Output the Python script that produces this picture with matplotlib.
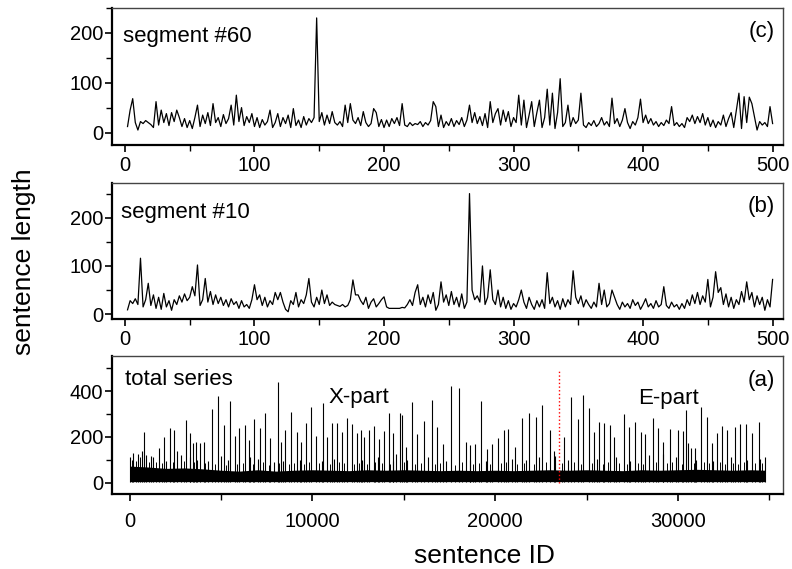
import matplotlib.pyplot as plt
import numpy as np
from matplotlib.ticker import MultipleLocator

plt.rcParams['font.family'] = ['Liberation Sans', 'DejaVu Sans']

# ---- segments of 500 sentences (read every 2nd sentence) ----
seg_x = np.arange(2, 501, 2)

seg60 = [12, 45, 68, 20, 5, 22, 18, 24, 20, 16,
         10, 62, 15, 45, 20, 38, 14, 40, 22, 45,
         30, 12, 28, 10, 24, 8, 30, 55, 12, 35,
         18, 40, 14, 58, 20, 30, 12, 36, 18, 28,
         55, 15, 75, 22, 50, 14, 32, 20, 38, 12,
         30, 10, 26, 15, 22, 45, 10, 20, 38, 12,
         30, 18, 35, 10, 48, 14, 25, 10, 32, 15,
         28, 20, 30, 230, 22, 40, 15, 35, 18, 42,
         20, 15, 22, 12, 55, 20, 58, 25, 18, 30,
         14, 42, 20, 12, 18, 48, 40, 12, 26, 10,
         25, 12, 28, 18, 30, 14, 58, 15, 12, 20,
         14, 18, 16, 22, 12, 20, 15, 24, 62, 52,
         12, 35, 10, 22, 14, 28, 12, 24, 16, 30,
         12, 25, 55, 20, 40, 18, 32, 14, 38, 10,
         62, 20, 38, 48, 15, 45, 22, 42, 12, 30,
         20, 75, 15, 65, 10, 35, 62, 12, 40, 65,
         10, 30, 87, 15, 79, 8, 40, 108, 12, 20,
         55, 12, 30, 18, 25, 79, 15, 10, 20, 14,
         24, 12, 18, 30, 15, 22, 12, 69, 18, 28,
         12, 25, 48, 20, 8, 22, 15, 30, 67, 20,
         35, 18, 28, 15, 22, 12, 20, 14, 25, 18,
         52, 14, 20, 12, 18, 10, 30, 22, 35, 18,
         32, 20, 38, 15, 30, 12, 25, 10, 22, 15,
         35, 12, 28, 40, 10, 45, 79, 8, 72, 20,
         71, 58, 32, 5, 22, 15, 20, 12, 52, 18]

seg10 = [9, 28, 22, 32, 20, 116, 15, 30, 64, 18,
         40, 12, 35, 10, 43, 15, 28, 8, 30, 20,
         38, 25, 42, 28, 35, 57, 38, 102, 18, 30,
         74, 25, 47, 20, 40, 22, 35, 18, 30, 15,
         32, 20, 26, 12, 28, 15, 20, 12, 30, 61,
         30, 40, 18, 35, 15, 28, 20, 45, 30, 45,
         25, 10, 5, 28, 20, 45, 15, 30, 22, 40,
         74, 25, 15, 35, 20, 50, 22, 40, 18, 25,
         20, 18, 16, 20, 15, 18, 30, 71, 40, 40,
         28, 20, 35, 12, 25, 32, 15, 22, 30, 36,
         15, 12, 12, 12, 12, 12, 14, 13, 20, 30,
         18, 45, 61, 20, 35, 15, 40, 22, 45, 8,
         20, 67, 25, 40, 18, 47, 20, 35, 15, 42,
         12, 25, 250, 50, 30, 38, 25, 100, 20, 35,
         92, 30, 20, 50, 15, 35, 12, 28, 10, 22,
         15, 30, 50, 25, 12, 35, 20, 10, 28, 15,
         30, 12, 86, 22, 35, 15, 28, 10, 32, 15,
         30, 20, 90, 35, 22, 38, 15, 30, 20, 12,
         25, 15, 64, 20, 50, 15, 22, 50, 35, 20,
         10, 25, 15, 22, 12, 30, 18, 25, 10, 20,
         32, 15, 22, 12, 28, 15, 20, 57, 18, 12,
         25, 15, 20, 10, 22, 12, 30, 18, 40, 22,
         45, 20, 38, 25, 72, 15, 35, 88, 45, 55,
         20, 42, 15, 35, 12, 30, 20, 47, 25, 67,
         30, 45, 15, 38, 20, 35, 8, 30, 15, 72]

# ---- total series: long spikes, medium spikes, dense band envelope ----
spike_x = [805, 1630, 1900, 2210, 2450, 3100, 3320, 3460, 3640, 3860,
           4050, 4510, 4820, 5150, 5520, 5750, 5970, 6300, 6520, 6830,
           7120, 7430, 7700, 8100, 8300, 8480, 8810, 9140, 9400, 9640,
           9950, 10190, 10560, 10800, 11070, 11340, 11600, 11890, 12160, 12420,
           12650, 12850, 13100, 13370, 13630, 13900, 14170, 14430, 14800, 14880,
           15100, 15430, 15750, 16090, 16540, 16840, 17120, 17610, 18030, 18400,
           18650, 18890, 19250, 19530, 19820, 20130, 20460, 20730, 21080, 21460,
           21860, 22230, 22590, 23010, 23220, 23745, 24150, 24510, 24820, 25110,
           25420, 25700, 25970, 26280, 26520, 27030, 27340, 27650, 27980, 28200,
           28620, 28890, 29170, 29590, 30030, 30300, 30450, 30540, 30960, 31270,
           31600, 31860, 32130, 32420, 32690, 33150, 33420, 33730, 34040, 34430]
spike_h = [223, 150, 201, 237, 230, 274, 215, 172, 179, 172,
           179, 320, 378, 252, 356, 204, 237, 252, 186, 277,
           237, 303, 196, 441, 179, 230, 310, 223, 179, 259,
           329, 204, 346, 201, 262, 262, 223, 282, 256, 216,
           230, 201, 230, 247, 189, 227, 303, 216, 306, 296,
           157, 353, 213, 271, 361, 242, 169, 424, 415, 179,
           165, 169, 357, 146, 169, 194, 230, 233, 157, 284,
           303, 288, 339, 230, 136, 201, 376, 276, 383, 325,
           223, 266, 262, 252, 201, 300, 242, 266, 223, 213,
           281, 237, 179, 233, 230, 227, 317, 172, 153, 329,
           286, 175, 216, 247, 230, 244, 256, 256, 216, 264]

mid_x = [40, 200, 450, 700, 900, 1150, 1300, 2000, 2600, 2800,
         3300, 3700, 4300, 5000, 5400, 6600, 7000, 7900, 8400, 9300,
         10500, 11200, 12700, 13600, 14400, 14600, 15200, 16300, 17300, 18600,
         19500, 20900, 21700, 22400, 23300, 24000, 25600, 26600, 27400, 28400,
         29200, 29900, 30700, 31000, 31900, 32900, 33800, 34500, 34740]
mid_h = [113, 130, 125, 138, 120, 118, 110, 95, 140, 120,
         110, 100, 95, 115, 100, 110, 105, 90, 95, 100,
         95, 105, 100, 110, 95, 125, 100, 110, 95, 100,
         95, 105, 100, 110, 115, 100, 105, 110, 95, 120,
         125, 110, 150, 100, 95, 110, 100, 105, 113]

# small bumps on top of the dense band
bump_x = [120, 330, 560, 1050, 1450, 1750, 2350, 2950, 3550, 4150,
          4650, 5300, 5850, 6200, 6750, 7300, 7600, 8200, 8700, 9000,
          9550, 9800, 10350, 10950, 11450, 11750, 12300, 12550, 13000, 13450,
          13800, 14250, 15000, 15600, 15950, 16700, 17000, 17800, 18200, 18800,
          19100, 19700, 20300, 20600, 21200, 21600, 22100, 22800, 23650, 24300,
          24700, 25300, 25900, 26150, 26800, 27200, 27800, 28100, 28800, 29400,
          29700, 30200, 30900, 31400, 31700, 32300, 32600, 33000, 33300, 33600,
          34200, 34600]
bump_h = [100, 95, 110, 92, 88, 85, 90, 95, 88, 84,
          80, 78, 82, 86, 80, 88, 76, 84, 80, 86,
          82, 90, 85, 80, 88, 84, 80, 86, 82, 90,
          84, 80, 88, 82, 86, 80, 84, 78, 88, 82,
          86, 80, 84, 88, 82, 86, 80, 90, 84, 88,
          82, 86, 80, 88, 84, 80, 86, 82, 90, 84,
          88, 82, 86, 92, 84, 88, 82, 86, 80, 88,
          84, 86]

band_x = [0, 1000, 2000, 3000, 4000, 5000, 6000, 7000, 8000, 9000,
          10000, 11000, 12000, 13000, 14000, 15000, 16000, 17000, 18000, 19000,
          20000, 21000, 22000, 23000, 24000, 25000, 26000, 27000, 28000, 29000,
          30000, 31000, 32000, 33000, 34000, 34740]
band_top = [72, 68, 62, 64, 60, 54, 50, 56, 50, 54,
            56, 54, 52, 56, 54, 56, 54, 52, 54, 52,
            54, 52, 54, 56, 54, 56, 54, 52, 56, 54,
            56, 58, 56, 54, 56, 54]
band_bottom = 4
split_x = 23490

fig = plt.figure(figsize=(7.92, 5.69), dpi=100)
ax_c = fig.add_axes([0.1414, 0.7452, 0.8472, 0.2408])
ax_b = fig.add_axes([0.1414, 0.4394, 0.8472, 0.2390])
ax_a = fig.add_axes([0.1414, 0.1318, 0.8472, 0.2425])


def style(ax, xmaj, xmin, ymaj, ymin, xpad):
    ax.xaxis.set_major_locator(MultipleLocator(xmaj))
    ax.xaxis.set_minor_locator(MultipleLocator(xmin))
    ax.yaxis.set_major_locator(MultipleLocator(ymaj))
    ax.yaxis.set_minor_locator(MultipleLocator(ymin))
    ax.tick_params(which='both', direction='out', top=False, right=False,
                   labelsize=14.5)
    ax.tick_params(which='major', length=5, width=1.2)
    ax.tick_params(which='minor', length=4, width=1.0)
    ax.tick_params(axis='x', pad=xpad)
    ax.tick_params(axis='y', pad=1.5)
    for s in ['bottom', 'left']:
        ax.spines[s].set_linewidth(1.6)
    for s in ['top', 'right']:
        ax.spines[s].set_linewidth(1.0)
        ax.spines[s].set_color('#444444')


# (c) segment #60
ax_c.plot(seg_x, seg60, color='black', lw=0.9)
ax_c.set_xlim(-10, 508)
ax_c.set_ylim(-25, 250)
style(ax_c, 100, 50, 100, 50, 3)
ax_c.text(0.016, 0.754, 'segment #60', transform=ax_c.transAxes, fontsize=16)
ax_c.text(0.988, 0.79, '(c)', transform=ax_c.transAxes, fontsize=16, ha='right')

# (b) segment #10
ax_b.plot(seg_x, seg10, color='black', lw=0.9)
ax_b.set_xlim(-10, 508)
ax_b.set_ylim(-10, 272)
style(ax_b, 100, 50, 100, 50, 3)
ax_b.text(0.014, 0.74, 'segment #10', transform=ax_b.transAxes, fontsize=16)
ax_b.text(0.988, 0.79, '(b)', transform=ax_b.transAxes, fontsize=16, ha='right')

# (a) total series
ax_a.fill_between(band_x, band_bottom, band_top, color='black', lw=0)
ax_a.vlines(bump_x, band_bottom, bump_h, color='black', lw=0.7)
ax_a.vlines(mid_x, band_bottom, mid_h, color='black', lw=0.8)
ax_a.vlines(spike_x, band_bottom, spike_h, color='black', lw=0.8)
ax_a.vlines([split_x], 0, 490, color='red', lw=1.0, linestyles=':')
ax_a.set_xlim(-964, 35748)
ax_a.set_ylim(-50, 553)
style(ax_a, 10000, 5000, 200, 100, 8)
ax_a.text(0.02, 0.79, 'total series', transform=ax_a.transAxes, fontsize=16)
ax_a.text(10890, 0.66, 'X-part', transform=ax_a.get_xaxis_transform(), fontsize=16)
ax_a.text(27820, 0.652, 'E-part', transform=ax_a.get_xaxis_transform(), fontsize=16)
ax_a.text(0.988, 0.78, '(a)', transform=ax_a.transAxes, fontsize=16, ha='right')

fig.text(0.03, 0.54, 'sentence length', rotation=90, fontsize=19,
         ha='center', va='center')
fig.text(0.612, 0.011, 'sentence ID', fontsize=19, ha='center', va='baseline')

fig.savefig('out.png', dpi=100)
